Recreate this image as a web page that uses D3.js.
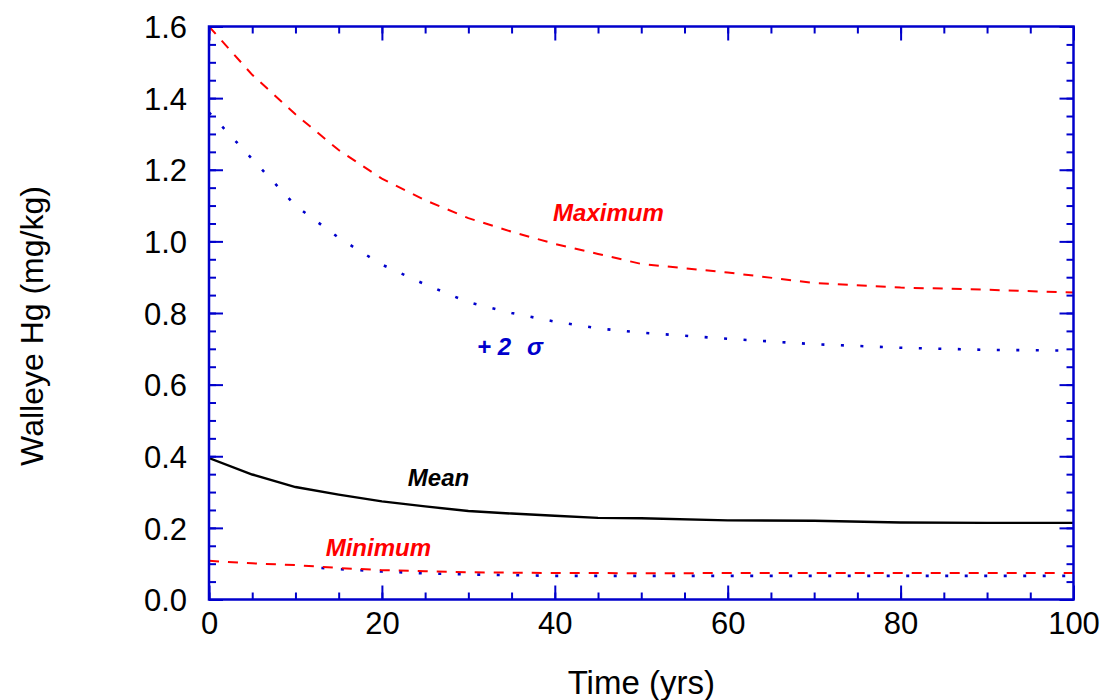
<!DOCTYPE html>
<html>
<head>
<meta charset="utf-8">
<script src="https://cdn.jsdelivr.net/npm/d3@7"></script>
<style>
  html, body { margin: 0; padding: 0; background: #fff; }
  svg { display: block; }
</style>
</head>
<body>
<svg id="chart" width="1104" height="700"></svg>
<script>
// ---- data ----
const years = [0, 5, 10, 15, 20, 25, 30, 35, 40, 45, 50, 60, 70, 80, 90, 100];
const maximum = [1.60, 1.465, 1.355, 1.255, 1.175, 1.115, 1.065, 1.027, 0.993, 0.965, 0.937, 0.913, 0.884, 0.871, 0.865, 0.857];
const plus2sigma = [1.36, 1.23, 1.10, 1.01, 0.935, 0.88, 0.83, 0.80, 0.776, 0.757, 0.745, 0.728, 0.713, 0.703, 0.697, 0.695];
const mean = [0.395, 0.349, 0.314, 0.293, 0.274, 0.26, 0.247, 0.24, 0.234, 0.228, 0.227, 0.221, 0.22, 0.215, 0.214, 0.214];
const minimum = [0.108, 0.101, 0.096, 0.088, 0.082, 0.079, 0.076, 0.075, 0.074, 0.074, 0.073, 0.074, 0.074, 0.074, 0.074, 0.074];
const minus2sigmaYears = [13, 15, 20, 25, 30, 40, 50, 60, 70, 80, 90, 100];
const minus2sigma = [0.088, 0.085, 0.078, 0.073, 0.070, 0.066, 0.066, 0.066, 0.066, 0.066, 0.066, 0.066];
const xTicks = [0, 20, 40, 60, 80, 100];
const yTicks = [0.0, 0.2, 0.4, 0.6, 0.8, 1.0, 1.2, 1.4, 1.6];
const xTitle = "Time (yrs)";
const yTitle = "Walleye Hg (mg/kg)";

// ---- layout ----
const svg = d3.select("#chart");
const L = 209, R = 1073.5, T = 26.5, B = 599.5;
const axisColor = "#0000cc";
const x = d3.scaleLinear().domain([0, 100]).range([L, R]);
const y = d3.scaleLinear().domain([0, 1.6]).range([B, T]);

const plot = svg.append("g");
plot.append("clipPath").attr("id", "clip")
  .append("rect").attr("x", L).attr("y", T).attr("width", R - L).attr("height", B - T);

const line = d3.line().x(d => x(d[0])).y(d => y(d[1]));
const lines = plot.append("g").attr("clip-path", "url(#clip)");

function drawSeries(xs, ys, color, width, dash) {
  lines.append("path")
    .datum(xs.map((t, i) => [t, ys[i]]))
    .attr("d", line)
    .attr("fill", "none")
    .attr("stroke", color)
    .attr("stroke-width", width)
    .attr("stroke-dasharray", dash)
    .attr("stroke-linecap", dash ? "butt" : "round");
}
drawSeries(years, plus2sigma, "#0000cc", 2.6, "3,16.5");
drawSeries(minus2sigmaYears, minus2sigma, "#0000cc", 2.6, "3,16.5");
drawSeries(years, maximum, "#ff0000", 2, "10,9");
drawSeries(years, minimum, "#ff0000", 2, "10,9");
drawSeries(years, mean, "#000000", 2.4, null);

// ---- axes with inward ticks on all four sides ----
const fmtY = d3.format(".1f");
const minorX = d3.range(0, 100.001, 5);
const minorY = d3.range(0, 1.6001, 0.05);

const axBottom = d3.axisBottom(x).tickValues(xTicks).tickSize(-14).tickFormat(d3.format("d"));
const axTop = d3.axisTop(x).tickValues(xTicks).tickSize(-14).tickFormat("");
const axLeft = d3.axisLeft(y).tickValues(yTicks).tickSize(-14).tickFormat(fmtY);
const axRight = d3.axisRight(y).tickValues(yTicks).tickSize(-14).tickFormat("");

const mnBottom = d3.axisBottom(x).tickValues(minorX).tickSize(-7).tickFormat("");
const mnTop = d3.axisTop(x).tickValues(minorX).tickSize(-7).tickFormat("");
const mnLeft = d3.axisLeft(y).tickValues(minorY).tickSize(-7).tickFormat("");
const mnRight = d3.axisRight(y).tickValues(minorY).tickSize(-7).tickFormat("");

function place(ax, tx, ty) {
  const g = svg.append("g").attr("transform", `translate(${tx},${ty})`).call(ax);
  g.select(".domain").remove();
  g.selectAll(".tick line").attr("stroke", axisColor).attr("stroke-width", 2);
  g.selectAll(".tick text").attr("fill", "#000")
    .style("font-family", "'Liberation Sans', Arial, Helvetica, sans-serif")
    .style("font-size", "31px");
  return g;
}
place(mnBottom, 0, B); place(mnTop, 0, T); place(mnLeft, L, 0); place(mnRight, R, 0);
const gb = place(axBottom, 0, B);
gb.selectAll(".tick text").attr("y", 0).attr("dy", "1.1em");
place(axTop, 0, T);
const gl = place(axLeft, L, 0);
gl.selectAll(".tick text").attr("x", -22).attr("dy", "0.36em");
place(axRight, R, 0);

// frame
svg.append("rect")
  .attr("x", L).attr("y", T).attr("width", R - L).attr("height", B - T)
  .attr("fill", "none").attr("stroke", axisColor).attr("stroke-width", 2.5);

// ---- titles ----
const font = "'Liberation Sans', Arial, Helvetica, sans-serif";
svg.append("text")
  .attr("x", (L + R) / 2).attr("y", 694)
  .attr("text-anchor", "middle")
  .style("font-family", font).style("font-size", "33px").attr("fill", "#000")
  .text(xTitle);
svg.append("text")
  .attr("transform", `translate(43,${(T + B) / 2 + 13}) rotate(-90)`)
  .attr("text-anchor", "middle")
  .style("font-family", font).style("font-size", "32px").attr("fill", "#000")
  .text(yTitle);

// ---- annotations ----
function note(txt, tx, ty, color) {
  return svg.append("text")
    .attr("x", tx).attr("y", ty)
    .style("font-family", font).style("font-size", "24px")
    .style("font-weight", "bold").style("font-style", "italic")
    .attr("fill", color).text(txt);
}
note("Maximum", x(39.8), 221, "#ff0000");
note("Mean", x(23), 486, "#000000");
note("Minimum", x(13.5), 556, "#ff0000");
const sg = note("+ 2", x(31), 355, "#0000cc");
sg.append("tspan").attr("dx", 16).text("σ");
</script>
</body>
</html>
